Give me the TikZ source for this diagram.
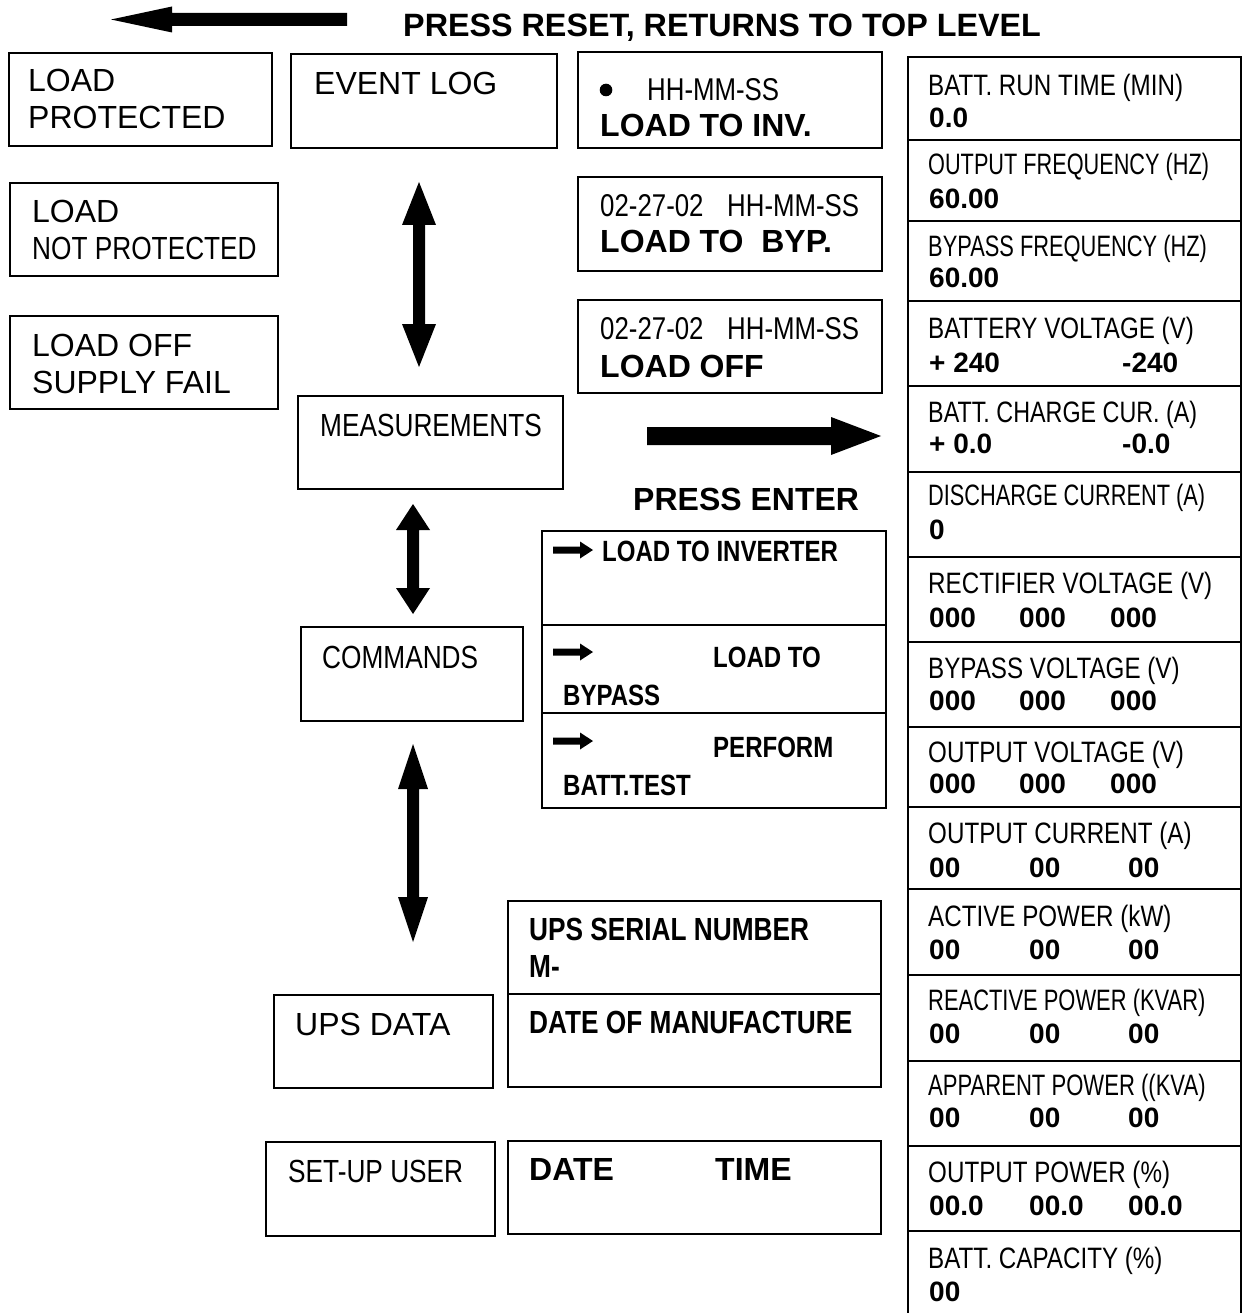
\documentclass[tikz,border=0pt]{standalone}
\usepackage{fontspec}
\setmainfont{Liberation Sans}
\newfontfamily\nar[FakeStretch=0.82]{Liberation Sans}
\newcommand\fsz[1]{\fontsize{#1}{#1}\selectfont}
\newcommand\bx[5]{\node[box, minimum width={#4-#2}, minimum height={#5-#3}] (#1) at ({(#2+#4)/2},{(#3+#5)/2}) {};}
% vertical double arrow: x, top, bottom, head length, head half width
\newcommand\udarrow[5]{\fill (#1,#2) -- ({#1+#5},{#2+#4}) -- ({#1+6},{#2+#4}) -- ({#1+6},{#3-#4}) -- ({#1+#5},{#3-#4}) -- (#1,#3) -- ({#1-#5},{#3-#4}) -- ({#1-6},{#3-#4}) -- ({#1-6},{#2+#4}) -- ({#1-#5},{#2+#4}) -- cycle;}
% small right arrow glyph at x, y
\newcommand\smarrow[2]{\fill (#1,{#2-3.5}) -- ({#1+27},{#2-3.5}) -- ({#1+27},{#2-8.5}) -- ({#1+40},#2) -- ({#1+27},{#2+8.5}) -- ({#1+27},{#2+3.5}) -- (#1,{#2+3.5}) -- cycle;}
\begin{document}
\begin{tikzpicture}[x=1pt,y=-1pt,
  box/.style={draw, line width=1.5pt, inner sep=0pt},
  txt/.style={anchor=base west, inner sep=0pt},
  lab/.style={txt, font=\nar\fsz{29.5}},
  squeeze/.style={xscale=#1, transform shape},
  val/.style={txt, font=\bfseries\fsz{28}},
  big/.style={txt, font=\fsz{32}},
  bignar/.style={txt, font=\nar\fsz{32}},
  smnar/.style={txt, font=\nar\fsz{31.5}},
  bold/.style={txt, font=\bfseries\fsz{32}},
  boldnar/.style={txt, font=\nar\bfseries\fsz{32}},
  cmdt/.style={txt, font=\nar\bfseries\fsz{29.3}}]
\useasboundingbox[fill=white] (0,0) rectangle (1248,1313);

% top arrow and title
\coordinate (ltip) at (111,19.5);
\fill (ltip) -- (172,6.5) -- (172,13) -- (347,13) -- (347,26) -- (172,26) -- (172,32.5) -- cycle;
\node[txt, font=\bfseries\fsz{32.3}] (reset) at (403,37) {PRESS RESET, RETURNS TO TOP LEVEL};

% left column
\bx{lp}{9}{53}{272}{146}
\node[big] (lp1) at (28,92) {LOAD};
\node[big] (lp2) at (28,129) {PROTECTED};
\bx{lnp}{10}{183}{278}{276}
\node[big] (lnp1) at (32,223) {LOAD};
\node[bignar] (lnp2) at (32,260) {NOT PROTECTED};
\bx{lof}{10}{316}{278}{409}
\node[big] (lof1) at (32,356) {LOAD OFF};
\node[big] (lof2) at (32,393) {SUPPLY FAIL};

% middle column
\bx{ev}{291}{54}{557}{148}
\node[big] (evt) at (314,95) {EVENT LOG};
\udarrow{419}{182}{367}{43}{17}
\bx{meas}{298}{396}{563}{489}
\node[bignar] (meast) at (320,436) {MEASUREMENTS};
\udarrow{413}{504}{614}{26}{17}
\bx{cmd}{301}{627}{523}{721}
\node[bignar] (cmdtt) at (322,668) {COMMANDS};
\udarrow{413}{744}{942}{45}{15}
\bx{upsd}{274}{995}{493}{1088}
\node[big] (upsdt) at (295,1035) {UPS DATA};
\bx{setup}{266}{1142}{495}{1236}
\node[bignar] (setupt) at (288,1182) {SET-UP USER};

% event log entries
\bx{ea}{578}{52}{882}{148}
\fill (606,90) circle (6.3);
\node[smnar] (ea1) at (647,101) {HH-MM-SS};
\node[bold] (ea2) at (600,137) {LOAD TO INV.};
\bx{eb}{578}{177}{882}{271}
\node[smnar] (eb0) at (600,217) {02-27-02};
\node[smnar] (eb1) at (727,217) {HH-MM-SS};
\node[bold] (eb2) at (600,253) {LOAD TO\ \ BYP.};
\bx{ec}{578}{300}{882}{393}
\node[smnar] (ec0) at (600,339) {02-27-02};
\node[smnar] (ec1) at (727,339) {HH-MM-SS};
\node[bold] (ec2) at (600,377) {LOAD OFF};

% enter arrow
\fill (647,427) -- (831,427) -- (831,417) -- (881,436) -- (831,455) -- (831,445) -- (647,445) -- cycle;
\node[bold] (enter) at (633,510) {PRESS ENTER};

% commands box
\bx{cbox}{542}{531}{886}{808}
\draw[line width=1.5pt] (542,625) -- (886,625);
\draw[line width=1.5pt] (542,713) -- (886,713);
\smarrow{553}{550}
\node[cmdt] (c1) at (602,561) {LOAD TO INVERTER};
\smarrow{553}{652}
\node[cmdt] (c2a) at (713,667) {LOAD TO};
\node[cmdt] (c2b) at (563,705) {BYPASS};
\smarrow{553}{741}
\node[cmdt] (c3a) at (713,757) {PERFORM};
\node[cmdt] (c3b) at (563,795) {BATT.TEST};

% ups data
\bx{ubox}{508}{901}{881}{1087}
\draw[line width=1.5pt] (508,994) -- (881,994);
\node[boldnar] (u1) at (529,940) {UPS SERIAL NUMBER};
\node[boldnar] (u2) at (529,977) {M-};
\node[boldnar] (u3) at (529,1033) {DATE OF MANUFACTURE};
\bx{dbox}{508}{1141}{881}{1234}
\node[bold] (d1) at (529,1180) {DATE};
\node[bold] (d2) at (715,1180) {TIME};

% right column
\draw[line width=1.5pt] (908,1313) -- (908,57) -- (1241,57) -- (1241,1313);
\foreach \yy in {140,221,301,386,472,557,642,727,807,889,975,1061,1146,1231}
  \draw[line width=1.5pt] (908,\yy) -- (1241,\yy);
\node[lab] (r1) at (928,96) {BATT. RUN TIME (MIN)};
\node[val] (v1) at (929,128) {0.0};
\node[lab, squeeze=0.897] (r2) at (928,175) {OUTPUT FREQUENCY (HZ)};
\node[val] (v2) at (929,209) {60.00};
\node[lab, squeeze=0.903] (r3) at (928,257) {BYPASS FREQUENCY (HZ)};
\node[val] (v3) at (929,288) {60.00};
\node[lab] (r4) at (928,338) {BATTERY VOLTAGE (V)};
\node[val] (v4a) at (929,372) {+ 240};
\node[val] (v4b) at (1122,372) {-240};
\node[lab, squeeze=0.964] (r5) at (928,422) {BATT. CHARGE CUR. (A)};
\node[val] (v5a) at (929,453) {+ 0.0};
\node[val] (v5b) at (1122,453) {-0.0};
\node[lab, squeeze=0.9] (r6) at (928,505) {DISCHARGE CURRENT (A)};
\node[val] (v6) at (929,539) {0};
\node[lab] (r7) at (928,593) {RECTIFIER VOLTAGE (V)};
\node[val] (v7a) at (929,627) {000};
\node[val] (v7b) at (1019,627) {000};
\node[val] (v7c) at (1110,627) {000};
\node[lab] (r8) at (928,678) {BYPASS VOLTAGE (V)};
\node[val] (v8a) at (929,710) {000};
\node[val] (v8b) at (1019,710) {000};
\node[val] (v8c) at (1110,710) {000};
\node[lab] (r9) at (928,762) {OUTPUT VOLTAGE (V)};
\node[val] (v9a) at (929,793) {000};
\node[val] (v9b) at (1019,793) {000};
\node[val] (v9c) at (1110,793) {000};
\node[lab] (r10) at (928,843) {OUTPUT CURRENT (A)};
\node[val] (v10a) at (929,877) {00};
\node[val] (v10b) at (1029,877) {00};
\node[val] (v10c) at (1128,877) {00};
\node[lab] (r11) at (928,926) {ACTIVE POWER (kW)};
\node[val] (v11a) at (929,959) {00};
\node[val] (v11b) at (1029,959) {00};
\node[val] (v11c) at (1128,959) {00};
\node[lab, squeeze=0.906] (r12) at (928,1010) {REACTIVE POWER (KVAR)};
\node[val] (v12a) at (929,1043) {00};
\node[val] (v12b) at (1029,1043) {00};
\node[val] (v12c) at (1128,1043) {00};
\node[lab, squeeze=0.912] (r13) at (928,1095) {APPARENT POWER ((KVA)};
\node[val] (v13a) at (929,1127) {00};
\node[val] (v13b) at (1029,1127) {00};
\node[val] (v13c) at (1128,1127) {00};
\node[lab] (r14) at (928,1182) {OUTPUT POWER (\%)};
\node[val] (v14a) at (929,1215) {00.0};
\node[val] (v14b) at (1029,1215) {00.0};
\node[val] (v14c) at (1128,1215) {00.0};
\node[lab] (r15) at (928,1268) {BATT. CAPACITY (\%)};
\node[val] (v15) at (929,1301) {00};
\end{tikzpicture}
\end{document}
